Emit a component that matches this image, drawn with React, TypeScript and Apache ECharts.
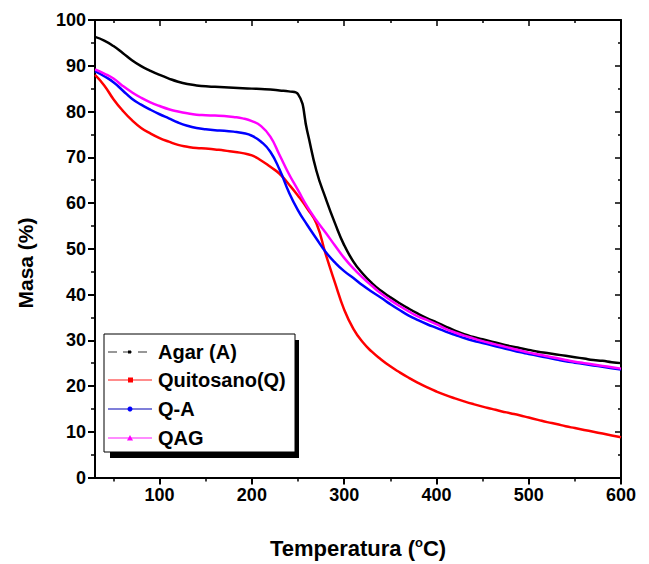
import React, { useEffect, useRef } from "react";
import * as echarts from "echarts";

const temps = [30, 40, 50, 60, 70, 80, 90, 100, 110, 120, 130, 140, 150, 160, 170, 180, 190, 200, 210, 220, 230, 240, 250, 260, 270, 280, 290, 300, 310, 320, 330, 340, 350, 360, 370, 380, 390, 400, 410, 420, 430, 440, 450, 460, 470, 480, 490, 500, 510, 520, 530, 540, 550, 560, 570, 580, 590, 600];
const agar = [96.3, 95.5, 94.3, 92.8, 91.2, 89.9, 88.9, 88.0, 87.2, 86.5, 86.0, 85.7, 85.5, 85.4, 85.3, 85.2, 85.1, 85.0, 84.9, 84.8, 84.6, 84.4, 83.8, 75.7, 67.0, 61.0, 55.6, 50.8, 47.2, 44.6, 42.5, 40.8, 39.4, 38.1, 36.9, 35.8, 34.8, 33.9, 33.0, 32.1, 31.3, 30.7, 30.2, 29.7, 29.2, 28.7, 28.3, 27.9, 27.5, 27.2, 26.9, 26.6, 26.3, 26.0, 25.7, 25.5, 25.2, 25.0];
const quitosano = [88.0, 85.7, 82.7, 80.2, 78.1, 76.4, 75.2, 74.2, 73.4, 72.7, 72.3, 72.0, 71.9, 71.7, 71.5, 71.2, 70.9, 70.4, 69.3, 67.9, 66.4, 64.1, 61.6, 58.8, 55.5, 48.8, 42.6, 36.7, 32.5, 29.6, 27.5, 25.8, 24.3, 23.0, 21.8, 20.7, 19.7, 18.8, 18.0, 17.3, 16.65, 16.05, 15.5, 15.0, 14.5, 14.05, 13.6, 13.1, 12.6, 12.1, 11.7, 11.2, 10.8, 10.4, 10.0, 9.6, 9.2, 8.8];
const qa = [88.8, 87.7, 86.4, 84.6, 82.8, 81.5, 80.4, 79.4, 78.5, 77.6, 76.9, 76.4, 76.1, 75.9, 75.8, 75.6, 75.3, 74.7, 73.4, 71.2, 67.3, 62.4, 58.4, 55.2, 52.2, 49.3, 47.0, 45.1, 43.6, 42.0, 40.6, 39.3, 37.9, 36.6, 35.4, 34.4, 33.5, 32.7, 31.9, 31.2, 30.5, 29.9, 29.4, 28.9, 28.4, 27.9, 27.4, 27.0, 26.6, 26.2, 25.8, 25.4, 25.1, 24.8, 24.5, 24.2, 23.9, 23.6];
const qag = [89.2, 88.3, 87.2, 85.6, 84.2, 83.0, 82.0, 81.2, 80.5, 80.0, 79.6, 79.3, 79.2, 79.1, 79.0, 78.8, 78.5, 77.9, 76.8, 74.5, 70.5, 66.4, 62.8, 59.2, 56.2, 53.5, 50.7, 48.0, 45.7, 43.7, 41.9, 40.2, 38.8, 37.5, 36.3, 35.2, 34.4, 33.5, 32.5, 31.7, 31.0, 30.4, 29.8, 29.3, 28.8, 28.3, 27.8, 27.3, 26.9, 26.5, 26.1, 25.7, 25.3, 25.0, 24.7, 24.4, 24.1, 23.8];

const seriesNames = ["Agar (A)", "Quitosano(Q)", "Q-A", "QAG"];
const seriesColors = ["#000000", "#ff0000", "#0000ff", "#ff00ff"];
const xMajor = [100, 200, 300, 400, 500, 600];
const xMinor = [50, 150, 250, 350, 450, 550];

const FONT = "Liberation Sans";

export default function App() {
  const ref = useRef<HTMLDivElement>(null);
  useEffect(() => {
    document.body.style.margin = "0";
    const chart = echarts.init(ref.current!, null, { renderer: "svg" });
    const allData = [agar, quitosano, qa, qag];
    const axisLine = { show: true, lineStyle: { color: "#000", width: 2 } };
    const baseX = { type: "value", min: 30, max: 600, splitLine: { show: false } };
    const legendY = [352, 380, 409, 438];
    const g: any[] = [
      { type: "rect", shape: { x: 110, y: 340, width: 189, height: 118 }, style: { fill: "#000" }, z: 100 },
      { type: "rect", shape: { x: 104, y: 334, width: 191, height: 118 }, style: { fill: "#fff", stroke: "#000", lineWidth: 1 }, z: 101 },
      {
        type: "text", x: 25, y: 263, rotation: Math.PI / 2,
        style: { text: "Masa (%)", fill: "#000", font: `bold 21px "${FONT}"`, align: "center", verticalAlign: "middle" }, z: 50,
      },
    ];
    legendY.forEach((y, i) => {
      if (i === 0) {
        g.push({ type: "line", shape: { x1: 108, y1: y, x2: 152, y2: y }, style: { stroke: "#777", lineWidth: 1.5, lineDash: [9, 6] }, z: 102 });
        g.push({ type: "rect", shape: { x: 128, y: y - 1.5, width: 3, height: 3 }, style: { fill: "#000" }, z: 103 });
      } else {
        const light = ["", "#ff6666", "#5555cc", "#ff66ff"][i];
        g.push({ type: "line", shape: { x1: 108, y1: y, x2: 152, y2: y }, style: { stroke: light, lineWidth: 1.5 }, z: 102 });
        if (i === 1) g.push({ type: "rect", shape: { x: 128, y: y - 2.5, width: 5, height: 5 }, style: { fill: seriesColors[i] }, z: 103 });
        if (i === 2) g.push({ type: "circle", shape: { cx: 130, cy: y, r: 2.5 }, style: { fill: seriesColors[i] }, z: 103 });
        if (i === 3) g.push({ type: "polygon", shape: { points: [[130, y - 3], [133, y + 2.5], [127, y + 2.5]] }, style: { fill: seriesColors[i] }, z: 103 });
      }
      g.push({ type: "text", x: 158, y: y, style: { text: seriesNames[i], fill: "#000", font: `bold 20px "${FONT}"`, verticalAlign: "middle" }, z: 103 });
    });

    chart.setOption({
      animation: false,
      backgroundColor: "#fff",
      textStyle: { fontFamily: FONT },
      grid: { left: 95, right: 28, top: 20, bottom: 84 },
      xAxis: [
        {
          ...baseX, position: "bottom",
          axisLine,
          axisTick: { show: true, customValues: xMajor, length: 7, lineStyle: { color: "#000", width: 2 } },
          axisLabel: { show: true, customValues: xMajor, color: "#000", fontSize: 18, fontWeight: "bold", fontFamily: FONT, margin: 8 },
          name: "Temperatura ({sup|o}C)",
          nameLocation: "middle",
          nameGap: 58,
          nameTextStyle: {
            color: "#000", fontSize: 22, fontWeight: "bold", fontFamily: FONT,
            rich: { sup: { fontSize: 13, fontWeight: "bold", fontFamily: FONT, color: "#000", verticalAlign: "top", padding: [0, 0, 12, 0] } },
          },
        },
        {
          ...baseX, position: "bottom",
          axisLine: { show: false },
          axisTick: { show: true, customValues: xMinor, length: 4, lineStyle: { color: "#000", width: 1.5 } },
          axisLabel: { show: false },
        },
        {
          ...baseX, position: "top",
          axisLine,
          axisTick: { show: true, inside: true, customValues: xMajor, length: 6, lineStyle: { color: "#000", width: 1.5 } },
          axisLabel: { show: false },
        },
        {
          ...baseX, position: "top",
          axisLine: { show: false },
          axisTick: { show: true, inside: true, customValues: xMinor, length: 3, lineStyle: { color: "#000", width: 1.5 } },
          axisLabel: { show: false },
        },
      ],
      yAxis: [
        {
          type: "value", min: 0, max: 100, interval: 10, position: "left",
          axisLine,
          splitLine: { show: false },
          axisTick: { show: true, length: 7, lineStyle: { color: "#000", width: 2 } },
          minorTick: { show: true, splitNumber: 2, length: 4, lineStyle: { color: "#000", width: 1.5 } },
          axisLabel: { color: "#000", fontSize: 18, fontWeight: "bold", fontFamily: FONT, margin: 9 },
        },
        {
          type: "value", min: 0, max: 100, interval: 10, position: "right",
          axisLine,
          splitLine: { show: false },
          axisTick: { show: true, inside: true, length: 6, lineStyle: { color: "#000", width: 1.5 } },
          minorTick: { show: true, splitNumber: 2, length: 3, lineStyle: { color: "#000", width: 1.5 } },
          axisLabel: { show: false },
        },
      ],
      series: allData.map((vals, i) => ({
        type: "line",
        name: seriesNames[i],
        xAxisIndex: 0,
        yAxisIndex: 0,
        data: temps.map((t, k) => [t, vals[k]]),
        smooth: 0.5,
        showSymbol: false,
        lineStyle: { color: seriesColors[i], width: 2.5 },
        itemStyle: { color: seriesColors[i] },
        z: 2 + i,
      })),
      graphic: g,
    });
    return () => chart.dispose();
  }, []);
  return <div ref={ref} style={{ width: 649, height: 564 }} />;
}
